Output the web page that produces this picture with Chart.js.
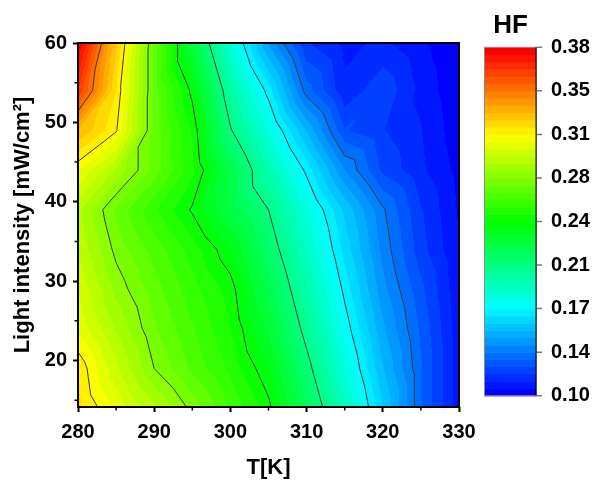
<!DOCTYPE html>
<html>
<head>
<meta charset="utf-8">
<script src="https://cdn.jsdelivr.net/npm/chart.js@4.4.1/dist/chart.umd.min.js"></script>
<style>
  html, body { margin: 0; padding: 0; background: #fff; }
  canvas { display: block; }
</style>
</head>
<body>
<canvas id="c" width="597" height="480"></canvas>
<script>
// Measurement grid: temperature (K) and light intensity (mW/cm²)
const temps = [280, 285, 290, 295, 300, 305, 310, 315, 320, 325, 330];
const intensities = [14, 19, 24, 29, 34, 39, 44, 49, 54, 60];

// HF values, one row per light intensity, one entry per temperature
const hf14 = [0.318, 0.303, 0.288, 0.273, 0.257, 0.242, 0.217, 0.189, 0.159, 0.130, 0.108];
const hf19 = [0.315, 0.294, 0.275, 0.262, 0.250, 0.235, 0.209, 0.181, 0.153, 0.130, 0.108];
const hf24 = [0.303, 0.286, 0.270, 0.258, 0.246, 0.227, 0.201, 0.174, 0.148, 0.128, 0.108];
const hf29 = [0.298, 0.279, 0.266, 0.254, 0.243, 0.220, 0.194, 0.168, 0.143, 0.125, 0.107];
const hf34 = [0.292, 0.273, 0.261, 0.249, 0.235, 0.212, 0.187, 0.162, 0.139, 0.120, 0.106];
const hf39 = [0.288, 0.268, 0.253, 0.239, 0.222, 0.205, 0.180, 0.157, 0.136, 0.118, 0.105];
const hf44 = [0.305, 0.286, 0.267, 0.248, 0.221, 0.193, 0.168, 0.141, 0.122, 0.113, 0.104];
const hf49 = [0.328, 0.311, 0.267, 0.245, 0.206, 0.180, 0.152, 0.124, 0.118, 0.112, 0.102];
const hf54 = [0.363, 0.316, 0.267, 0.238, 0.197, 0.167, 0.132, 0.113, 0.122, 0.110, 0.101];
const hf60 = [0.381, 0.323, 0.267, 0.223, 0.182, 0.146, 0.118, 0.110, 0.113, 0.107, 0.100];
const hfRows = [hf14, hf19, hf24, hf29, hf34, hf39, hf44, hf49, hf54, hf60];

// Axis ticks
const xTicks = [280, 290, 300, 310, 320, 330];
const xMinorTicks = [285, 295, 305, 315, 325];
const yTicks = [20, 30, 40, 50, 60];
const yMinorTicks = [15, 25, 35, 45, 55];

// Colour scale
const cbTicks = [0.10, 0.135, 0.17, 0.205, 0.24, 0.275, 0.31, 0.345, 0.38];
const cbLabels = ['0.10', '0.14', '0.17', '0.21', '0.24', '0.28', '0.31', '0.35', '0.38'];
const lineLevels = [0.135, 0.17, 0.205, 0.24, 0.275, 0.31, 0.345];
const zMin = 0.10, zMax = 0.38, nBands = 48;

const FONT = "'Liberation Sans', Arial, Helvetica, sans-serif";

function rainbow(f) {
  let r, g, b;
  if (f < 0.25) { r = 0; g = 255 * f / 0.25; b = 255; }
  else if (f < 0.5) { r = 0; g = 255; b = 255 * (1 - (f - 0.25) / 0.25); }
  else if (f < 0.75) { r = 255 * (f - 0.5) / 0.25; g = 255; b = 0; }
  else { r = 255; g = 255 * (1 - (f - 0.75) / 0.25); b = 0; }
  return [Math.round(r), Math.round(g), Math.round(b)];
}
const bandColors = [];
for (let k = 0; k < nBands; k++) bandColors.push(rainbow(k / (nBands - 1)));
const bandStep = (zMax - zMin) / nBands;
function bandOf(z) {
  let k = Math.floor((z - zMin) / bandStep);
  return Math.max(0, Math.min(nBands - 1, k));
}

function cellIndex(arr, v) {
  let i = 0;
  while (i < arr.length - 2 && v > arr[i + 1]) i++;
  return i;
}
// Linear interpolation on the triangulated grid (each cell split along its rising diagonal)
function fieldValue(T, I) {
  const i = cellIndex(temps, T), j = cellIndex(intensities, I);
  const u = (T - temps[i]) / (temps[i + 1] - temps[i]);
  const v = (I - intensities[j]) / (intensities[j + 1] - intensities[j]);
  const z00 = hfRows[j][i], z10 = hfRows[j][i + 1];
  const z01 = hfRows[j + 1][i], z11 = hfRows[j + 1][i + 1];
  if (u >= v) return z00 + u * (z10 - z00) + v * (z11 - z10);
  return z00 + v * (z01 - z00) + u * (z11 - z01);
}

const gridPoints = [];
intensities.forEach((I, j) => temps.forEach((T, i) => gridPoints.push({x: T, y: I, z: hfRows[j][i]})));

const contourPlugin = {
  id: 'contourField',
  afterDatasetsDraw(chart) {
    const {ctx, chartArea: a, scales: {x, y, cb}} = chart;

    // filled contour bands
    const L = Math.round(a.left), Tp = Math.round(a.top);
    const W = Math.round(a.right) - L, H = Math.round(a.bottom) - Tp;
    const off = document.createElement('canvas');
    off.width = W; off.height = H;
    const octx = off.getContext('2d');
    const img = octx.createImageData(W, H);
    const colT = [], rowI = [];
    for (let i = 0; i < W; i++) colT.push(x.getValueForPixel(L + i + 0.5));
    for (let j = 0; j < H; j++) rowI.push(y.getValueForPixel(Tp + j + 0.5));
    let p = 0;
    for (let j = 0; j < H; j++) {
      for (let i = 0; i < W; i++) {
        const c = bandColors[bandOf(fieldValue(colT[i], rowI[j]))];
        img.data[p++] = c[0]; img.data[p++] = c[1]; img.data[p++] = c[2]; img.data[p++] = 255;
      }
    }
    octx.putImageData(img, 0, 0);
    ctx.drawImage(off, L, Tp);

    // contour lines (marching triangles)
    ctx.save();
    ctx.beginPath();
    ctx.rect(a.left, a.top, a.right - a.left, a.bottom - a.top);
    ctx.clip();
    ctx.strokeStyle = '#3a3a3a';
    ctx.lineWidth = 1;
    ctx.beginPath();
    const node = (i, j) => ({T: temps[i], I: intensities[j], z: hfRows[j][i]});
    for (const lvl of lineLevels) {
      for (let j = 0; j < intensities.length - 1; j++) {
        for (let i = 0; i < temps.length - 1; i++) {
          const tris = [
            [node(i, j), node(i + 1, j), node(i + 1, j + 1)],
            [node(i, j), node(i, j + 1), node(i + 1, j + 1)]
          ];
          for (const tri of tris) {
            const pts = [];
            for (let e = 0; e < 3; e++) {
              const A = tri[e], B = tri[(e + 1) % 3];
              const da = A.z - lvl, db = B.z - lvl;
              if ((da < 0 && db >= 0) || (da >= 0 && db < 0)) {
                const t = (lvl - A.z) / (B.z - A.z);
                pts.push({T: A.T + t * (B.T - A.T), I: A.I + t * (B.I - A.I)});
              }
            }
            if (pts.length === 2) {
              ctx.moveTo(x.getPixelForValue(pts[0].T), y.getPixelForValue(pts[0].I));
              ctx.lineTo(x.getPixelForValue(pts[1].T), y.getPixelForValue(pts[1].I));
            }
          }
        }
      }
    }
    ctx.stroke();
    ctx.restore();

    // frame
    ctx.save();
    ctx.strokeStyle = '#000';
    ctx.lineWidth = 2;
    ctx.strokeRect(a.left, a.top, a.right - a.left, a.bottom - a.top);

    // minor ticks
    ctx.lineWidth = 1.5;
    ctx.beginPath();
    for (const v of xMinorTicks) {
      const px = x.getPixelForValue(v);
      ctx.moveTo(px, a.bottom); ctx.lineTo(px, a.bottom + 3.5);
    }
    for (const v of yMinorTicks) {
      const py = y.getPixelForValue(v);
      ctx.moveTo(a.left, py); ctx.lineTo(a.left - 3.5, py);
    }
    ctx.stroke();

    // colour bar
    const cbL = 484, cbR = 537;
    for (let k = 0; k < nBands; k++) {
      const y1 = cb.getPixelForValue(zMin + k * bandStep);
      const y2 = cb.getPixelForValue(zMin + (k + 1) * bandStep);
      const c = bandColors[k];
      ctx.fillStyle = `rgb(${c[0]},${c[1]},${c[2]})`;
      ctx.fillRect(cbL, y2, cbR - cbL, y1 - y2 + 0.6);
    }
    const cbTop = cb.getPixelForValue(zMax), cbBot = cb.getPixelForValue(zMin);
    ctx.strokeStyle = '#8c8c8c';
    ctx.lineWidth = 1;
    ctx.strokeRect(cbL + 0.5, cbTop, cbR - cbL - 1, cbBot - cbTop);
    ctx.strokeStyle = 'rgba(0,0,0,0.45)';
    ctx.lineWidth = 2;
    ctx.beginPath();
    ctx.moveTo(cbR - 1, cbTop); ctx.lineTo(cbR - 1, cbBot);
    ctx.stroke();
    ctx.strokeStyle = '#7a7a7a';
    ctx.lineWidth = 1.5;
    ctx.beginPath();
    for (const v of cbTicks) {
      const py = cb.getPixelForValue(v);
      ctx.moveTo(cbR, py); ctx.lineTo(cbR + 5, py);
    }
    ctx.stroke();

    ctx.fillStyle = '#000';
    ctx.font = `bold 26px ${FONT}`;
    ctx.textAlign = 'center';
    ctx.textBaseline = 'alphabetic';
    ctx.fillText('HF', (cbL + cbR) / 2, 33);
    ctx.restore();
  }
};

const tickFont = {family: FONT, size: 20, weight: 'bold'};
const titleFont = {family: FONT, size: 22, weight: 'bold', lineHeight: 1};
function fixBox(prop, size) {
  return s => {
    s[prop] = size;
    s.paddingTop = 0; s.paddingBottom = 0; s.paddingLeft = 0; s.paddingRight = 0;
  };
}

new Chart(document.getElementById('c'), {
  type: 'scatter',
  data: {
    datasets: [{
      data: gridPoints,
      pointRadius: 0,
      pointHoverRadius: 0,
      showLine: false
    }]
  },
  options: {
    responsive: false,
    animation: false,
    events: [],
    layout: {padding: {top: 43, right: 0, bottom: 0, left: 0}},
    plugins: {legend: {display: false}, tooltip: {enabled: false}},
    scales: {
      x: {
        type: 'linear', position: 'bottom', min: 280, max: 330,
        afterBuildTicks: s => { s.ticks = xTicks.map(v => ({value: v})); },
        afterFit: fixBox('height', 73),
        grid: {display: true, drawOnChartArea: false, drawTicks: true, tickLength: 5, tickWidth: 2, tickColor: '#000'},
        border: {display: false},
        ticks: {font: tickFont, color: '#000', padding: 8, maxRotation: 0, autoSkip: false},
        title: {display: true, text: 'T[K]', font: titleFont, color: '#000', padding: {top: 0, bottom: 1}}
      },
      y: {
        type: 'linear', position: 'left', min: 14.15, max: 60,
        afterBuildTicks: s => { s.ticks = yTicks.map(v => ({value: v})); },
        afterFit: fixBox('width', 78),
        grid: {display: true, drawOnChartArea: false, drawTicks: true, tickLength: 5, tickWidth: 2, tickColor: '#000'},
        border: {display: false},
        ticks: {font: tickFont, color: '#000', padding: 6, autoSkip: false},
        title: {display: true, text: 'Light intensity [mW/cm²]', font: titleFont, color: '#000', padding: {top: 12, bottom: 0}}
      },
      cb: {
        type: 'linear', position: 'right', min: 0.09092, max: 0.38346,
        afterBuildTicks: s => { s.ticks = cbTicks.map(v => ({value: v})); },
        afterFit: fixBox('width', 138),
        grid: {display: false, drawTicks: false, drawOnChartArea: false},
        border: {display: false},
        ticks: {font: tickFont, color: '#000', padding: 92, autoSkip: false,
                callback: (v, idx) => cbLabels[idx]}
      }
    }
  },
  plugins: [contourPlugin]
});
</script>
</body>
</html>
